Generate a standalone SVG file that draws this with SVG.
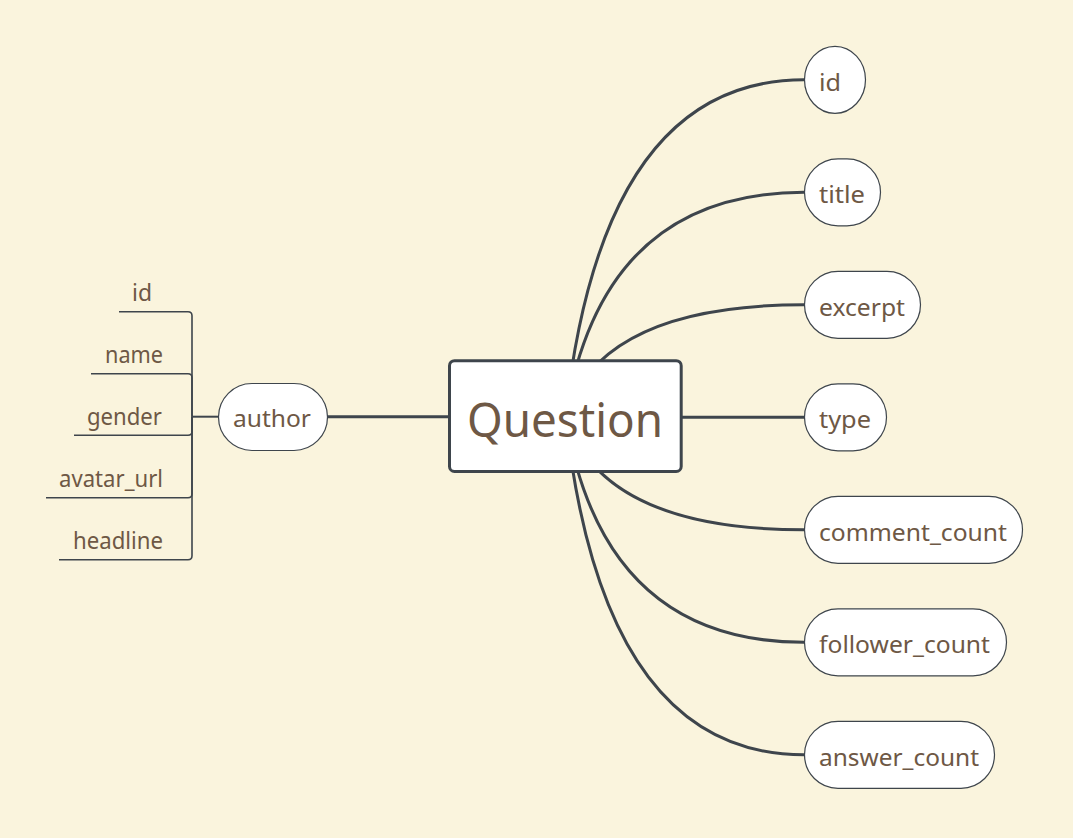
<svg xmlns="http://www.w3.org/2000/svg" width="1073" height="838" viewBox="0 0 1073 838">
  <style>
    .bg { fill: #FAF4DD; }
    .conn { fill: none; stroke: #3E454C; stroke-width: 3; stroke-linecap: round; }
    .tree { fill: none; stroke: #3E454C; stroke-width: 1.6; }
    .pill { fill: #FFFFFF; stroke: #3E454C; stroke-width: 1.2; }
    .central { fill: #FFFFFF; stroke: #3E454C; stroke-width: 3; }
    .lbl { font-family: "Noto Sans", "Open Sans", sans-serif; font-size: 24px; fill: #6E5845; }
    .title { font-family: "Noto Sans", "Open Sans", sans-serif; font-size: 48px; fill: #6E5845; }
  </style>
  <rect class="bg" x="0" y="0" width="1073" height="838"/>

  <g id="connectors">
    <path class="conn" d="M565.5,416 Q602,79.8 804,79.8"/>
    <path class="conn" d="M565.5,416 Q602,192.3 804,192.3"/>
    <path class="conn" d="M565.5,416 Q602,304.8 804,304.8"/>
    <path class="conn" d="M565.5,417.3 H804"/>
    <path class="conn" d="M565.5,416 Q602,529.8 804,529.8"/>
    <path class="conn" d="M565.5,416 Q602,642.3 804,642.3"/>
    <path class="conn" d="M565.5,416 Q602,754.8 804,754.8"/>
    <path class="conn" d="M327,416.7 H449"/>
    <path class="tree" d="M218,416.7 H192" style="stroke-width:2"/>
    <path class="tree" d="M192,416.7 V315.7 Q192,311.7 188,311.7 H119"/>
    <path class="tree" d="M192,416.7 V377.7 Q192,373.7 188,373.7 H91"/>
    <path class="tree" d="M192,416.7 V431.3 Q192,435.3 188,435.3 H74"/>
    <path class="tree" d="M192,416.7 V493.7 Q192,497.7 188,497.7 H46"/>
    <path class="tree" d="M192,416.7 V555.7 Q192,559.7 188,559.7 H59"/>
  </g>

  <g id="node-question">
    <rect class="central" x="449.5" y="360.7" width="231.7" height="110.8" rx="5"/>
    <text class="title" x="467" y="436.7" textLength="196" lengthAdjust="spacingAndGlyphs">Question</text>
  </g>

  <g id="node-id">
    <rect class="pill" x="804.5" y="46.3" width="61" height="67" rx="33.5"/>
    <text class="lbl" x="819" y="90.8" textLength="22" lengthAdjust="spacingAndGlyphs">id</text>
  </g>
  <g id="node-title">
    <rect class="pill" x="804.5" y="158.8" width="76" height="67" rx="33.5"/>
    <text class="lbl" x="819" y="203.3" textLength="46" lengthAdjust="spacingAndGlyphs">title</text>
  </g>
  <g id="node-excerpt">
    <rect class="pill" x="804.5" y="271.3" width="116" height="67" rx="33.5"/>
    <text class="lbl" x="819" y="315.8" textLength="86" lengthAdjust="spacingAndGlyphs">excerpt</text>
  </g>
  <g id="node-type">
    <rect class="pill" x="804.5" y="383.8" width="82" height="67" rx="33.5"/>
    <text class="lbl" x="819" y="428.3" textLength="52" lengthAdjust="spacingAndGlyphs">type</text>
  </g>
  <g id="node-comment_count">
    <rect class="pill" x="804.5" y="496.3" width="218" height="67" rx="33.5"/>
    <text class="lbl" x="819" y="540.8" textLength="188" lengthAdjust="spacingAndGlyphs">comment_count</text>
  </g>
  <g id="node-follower_count">
    <rect class="pill" x="804.5" y="608.8" width="202" height="67" rx="33.5"/>
    <text class="lbl" x="819" y="653.3" textLength="171" lengthAdjust="spacingAndGlyphs">follower_count</text>
  </g>
  <g id="node-answer_count">
    <rect class="pill" x="804.5" y="721.3" width="190" height="67" rx="33.5"/>
    <text class="lbl" x="819" y="765.8" textLength="160" lengthAdjust="spacingAndGlyphs">answer_count</text>
  </g>

  <g id="node-author">
    <rect class="pill" x="218.5" y="383.5" width="109" height="67" rx="33.5"/>
    <text class="lbl" x="233" y="426.7" textLength="78" lengthAdjust="spacingAndGlyphs">author</text>
  </g>

  <g id="node-author-id">
    <text class="lbl" x="132" y="300.7" textLength="20" lengthAdjust="spacingAndGlyphs">id</text>
  </g>
  <g id="node-author-name">
    <text class="lbl" x="105" y="362.7" textLength="58" lengthAdjust="spacingAndGlyphs">name</text>
  </g>
  <g id="node-author-gender">
    <text class="lbl" x="87" y="424.5" textLength="75" lengthAdjust="spacingAndGlyphs">gender</text>
  </g>
  <g id="node-author-avatar_url">
    <text class="lbl" x="59" y="486.7" textLength="104" lengthAdjust="spacingAndGlyphs">avatar_url</text>
  </g>
  <g id="node-author-headline">
    <text class="lbl" x="73" y="548.5" textLength="90" lengthAdjust="spacingAndGlyphs">headline</text>
  </g>
</svg>
